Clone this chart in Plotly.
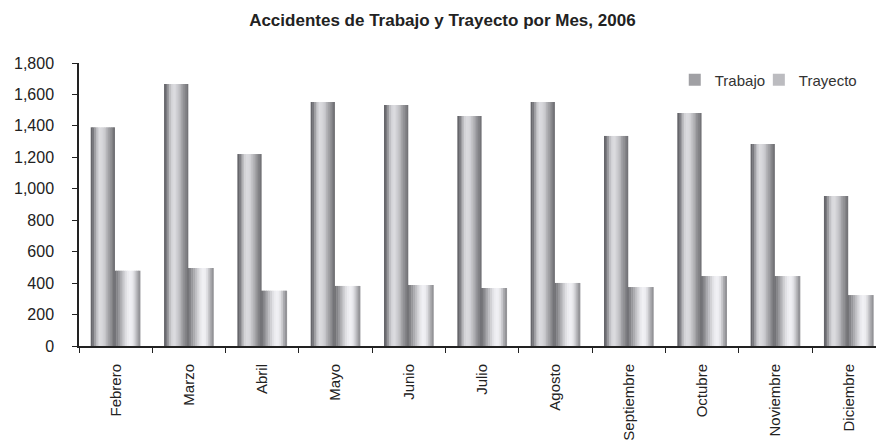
import plotly.graph_objects as go

meses = ["Febrero", "Marzo", "Abril", "Mayo", "Junio", "Julio", "Agosto",
         "Septiembre", "Octubre", "Noviembre", "Diciembre"]
trabajo = [1391, 1666, 1221, 1552, 1533, 1463, 1552, 1336, 1482, 1285, 954]
trayecto = [479, 496, 352, 382, 388, 369, 401, 375, 445, 445, 324]

# cylinder-like shading, drawn as thin vertical stripes (left -> right)
shade_trabajo = ["#66666b", "#7a7a7f", "#9c9ca0", "#bdbdc1", "#d2d2d6", "#dadade",
                 "#d8d8dc", "#d0d0d4", "#c4c4c8", "#b4b4b8", "#a2a2a6", "#929296",
                 "#838387", "#747478"]
shade_trayecto = ["#747478", "#858589", "#98989c", "#ababaf", "#bebec2", "#d0d0d4",
                  "#e0e0e4", "#ebebef", "#f0f0f4", "#ededf1", "#e0e0e4", "#c8c8cc",
                  "#acacb0", "#949498"]

fig = go.Figure()


def add_series(values, name, shades, offset0, width, legend_color, legend_id):
    n = len(shades)
    sw = width / n
    for i, c in enumerate(shades):
        fig.add_trace(go.Bar(
            x=meses, y=values, name=name,
            offset=offset0 + i * sw, width=sw + 0.006,
            marker=dict(color=c, line=dict(width=0)),
            showlegend=False, hoverinfo="skip" if i != n // 2 else None,
        ))
    # legend entry
    fig.add_trace(go.Bar(
        x=[None], y=[None], name=name, legend=legend_id,
        marker=dict(color=legend_color, line=dict(width=0)),
        showlegend=True,
    ))


add_series(trabajo, "Trabajo", shade_trabajo, -0.34, 0.325, "#a0a0a4", "legend")
add_series(trayecto, "Trayecto", shade_trayecto, -0.018, 0.35, "#bcbcc0", "legend2")

font_family = "Liberation Sans, Arial, sans-serif"
legend_style = dict(orientation="h", xanchor="left", y=0.94, yanchor="middle",
                    font=dict(size=15, color="#333333"), bgcolor="rgba(0,0,0,0)",
                    itemwidth=30)

fig.update_layout(
    width=876, height=442,
    barmode="overlay",
    paper_bgcolor="white", plot_bgcolor="white",
    margin=dict(l=79, r=0, t=63, b=96, autoexpand=False),
    title=dict(text="<b>Accidentes de Trabajo y Trayecto por Mes, 2006</b>",
               x=0.505, xanchor="center", y=0.955, yanchor="middle",
               font=dict(family=font_family, size=17, color="#222222")),
    font=dict(family=font_family, color="#222222"),
    legend=dict(x=0.7475, **legend_style),
    legend2=dict(x=0.853, **legend_style),
    showlegend=True,
)

fig.update_xaxes(
    type="category", categoryorder="array", categoryarray=meses,
    range=[-0.5, 10.37],
    tickangle=-90, tickfont=dict(size=15, color="#222222"),
    ticklabelstandoff=10,
    showline=True, linecolor="#222222", linewidth=2,
    ticks="outside", tickson="boundaries", ticklen=5, tickcolor="#222222", tickwidth=1,
    showgrid=False, automargin=False, fixedrange=True,
)
fig.update_yaxes(
    range=[0, 1800], dtick=200, tickformat=",",
    tickfont=dict(size=16, color="#222222"),
    ticklabelstandoff=15,
    showline=True, linecolor="#222222", linewidth=1.5,
    ticks="outside", ticklen=5, tickcolor="#222222",
    showgrid=False, zeroline=False, automargin=False, fixedrange=True,
)

fig.write_html("out.html", config={"displayModeBar": False},
               post_script="document.body.style.margin='0';")
